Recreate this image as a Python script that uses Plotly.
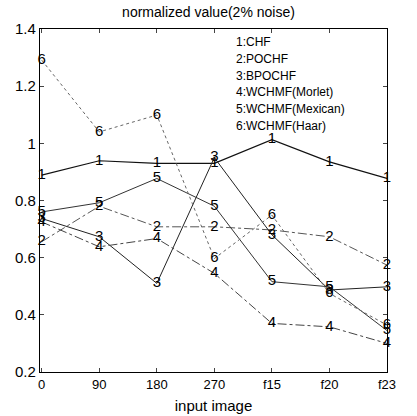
import plotly.graph_objects as go

categories = ["0", "90", "180", "270", "f15", "f20", "f23"]
series_names = ["CHF", "POCHF", "BPOCHF", "WCHMF(Morlet)", "WCHMF(Mexican)", "WCHMF(Haar)"]
s1 = [0.889, 0.939, 0.930, 0.930, 1.013, 0.935, 0.877]
s2 = [0.656, 0.780, 0.708, 0.708, 0.697, 0.673, 0.574]
s3 = [0.737, 0.673, 0.510, 0.950, 0.680, 0.487, 0.498]
s4 = [0.725, 0.638, 0.667, 0.545, 0.370, 0.358, 0.300]
s5 = [0.760, 0.792, 0.877, 0.780, 0.516, 0.498, 0.345]
s6 = [1.291, 1.040, 1.099, 0.597, 0.749, 0.475, 0.364]
series = [s1, s2, s3, s4, s5, s6]

dashes = ["solid", "dashdot", "solid", "dashdot", "solid", "dot"]
colors = ["#111111", "#555555", "#222222", "#444444", "#333333", "#666666"]
widths = [1.2, 1.0, 1.0, 1.0, 1.0, 1.0]

xs = list(range(len(categories)))
fig = go.Figure()
for i, vals in enumerate(series):
    fig.add_trace(go.Scatter(
        x=xs, y=vals, mode="lines+text",
        text=[str(i + 1)] * len(vals), textposition="middle center",
        textfont=dict(family="Arial, Liberation Sans", size=15, color="black"),
        line=dict(color=colors[i], dash=dashes[i], width=widths[i]),
        showlegend=False, cliponaxis=False))

for i, name in enumerate(series_names):
    fig.add_annotation(xref="paper", yref="paper", x=0.56, y=0.962 - i * 0.049,
                       text=f"{i + 1}:{name}", showarrow=False, xanchor="left",
                       yanchor="middle",
                       font=dict(family="Arial, Liberation Sans", size=12, color="black"))

fig.update_layout(
    width=417, height=416,
    margin=dict(l=40, r=30, t=29, b=44),
    paper_bgcolor="white", plot_bgcolor="white",
    title=dict(text="normalized value(2% noise)", x=0.5, xanchor="center",
               y=0.972, yanchor="middle",
               font=dict(family="Arial, Liberation Sans", size=14, color="black")),
    font=dict(family="Arial, Liberation Sans", color="black"),
)
fig.update_xaxes(range=[-0.03, 6.0], tickvals=xs, ticktext=categories,
                 showgrid=False, zeroline=False, showline=True, linecolor="black",
                 linewidth=1.2, mirror="ticks", ticks="inside", ticklen=4,
                 automargin=False,
                 tickfont=dict(size=13, family="Arial, Liberation Sans"),
                 title=dict(text="input image", font=dict(size=15), standoff=9))
fig.update_yaxes(range=[0.2, 1.4], tickvals=[0.2, 0.4, 0.6, 0.8, 1.0, 1.2, 1.4],
                 ticktext=["0.2", "0.4", "0.6", "0.8", "1", "1.2", "1.4"],
                 showgrid=False, zeroline=False, showline=True, linecolor="black",
                 linewidth=1.2, mirror="ticks", ticks="inside", ticklen=4,
                 tickfont=dict(size=15, family="Arial, Liberation Sans"))

fig.write_html("out.html")
